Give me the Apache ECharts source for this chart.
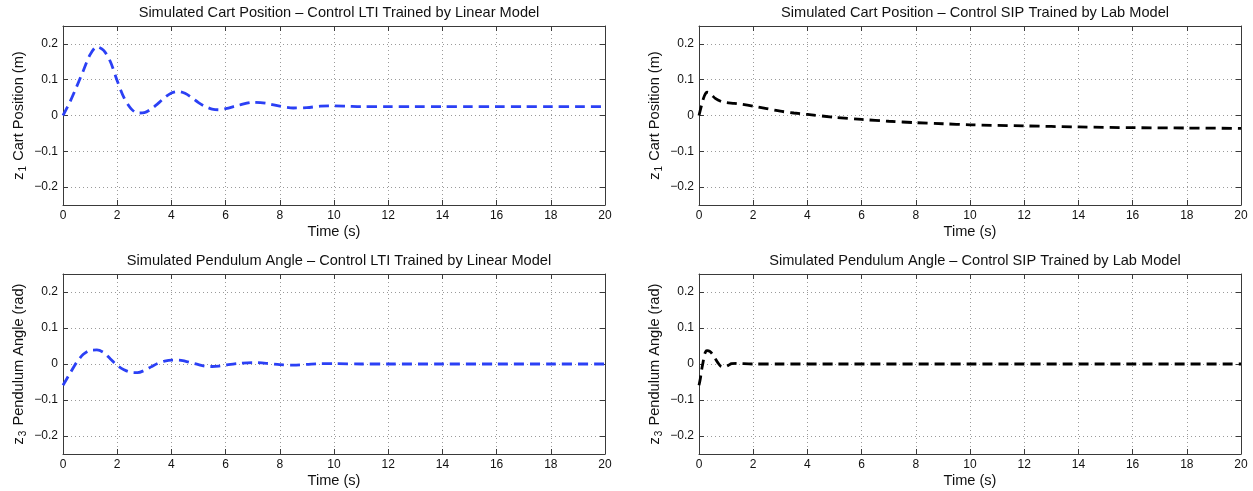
<!DOCTYPE html>
<html>
<head>
<meta charset="utf-8">
<script src="https://cdn.jsdelivr.net/npm/echarts@6/dist/echarts.min.js"></script>
<style>
html,body{margin:0;padding:0;background:#fff;}
#chart{width:1253px;height:491px;}
</style>
</head>
<body>
<div id="chart"></div>
<script>
// ---- data ----
const titles = [
  'Simulated Cart Position \u2013 Control LTI Trained by Linear Model',
  'Simulated Cart Position \u2013 Control SIP Trained by Lab Model',
  'Simulated Pendulum Angle \u2013 Control LTI Trained by Linear Model',
  'Simulated Pendulum Angle \u2013 Control SIP Trained by Lab Model'
];
const xTicks = [0, 2, 4, 6, 8, 10, 12, 14, 16, 18, 20];
const yTicks = [-0.2, -0.1, 0, 0.1, 0.2];

const tLtiCart = [0,0.25,0.5,0.75,1,1.25,1.5,1.75,2,2.25,2.5,2.75,3,3.25,3.5,3.75,4,4.25,4.5,4.75,5,5.25,5.5,5.75,6,6.5,7,7.5,8,8.5,9,9.5,10,10.5,11,12,13,14,15,16,17,18,19,20];
const yLtiCart = [0,0.037,0.08,0.125,0.170,0.192,0.182,0.150,0.097,0.050,0.020,0.007,0.008,0.018,0.033,0.050,0.063,0.067,0.062,0.050,0.036,0.025,0.018,0.016,0.019,0.029,0.037,0.034,0.026,0.021,0.022,0.026,0.027,0.026,0.025,0.025,0.025,0.025,0.025,0.025,0.025,0.025,0.025,0.025];

const tSipCart = [0,0.1,0.2,0.3,0.4,0.5,0.6,0.8,1.0,1.3,1.6,2,2.5,3,3.5,4,5,6,7,8,9,10,12,14,16,18,20];
const ySipCart = [0,0.03,0.055,0.065,0.063,0.055,0.048,0.040,0.036,0.034,0.031,0.026,0.019,0.012,0.007,0.003,-0.005,-0.011,-0.016,-0.020,-0.023,-0.026,-0.029,-0.032,-0.034,-0.035,-0.036];

const tLtiPend = [0,0.25,0.5,0.75,1,1.25,1.5,1.75,2,2.25,2.5,2.75,3,3.25,3.5,3.75,4,4.25,4.5,4.75,5,5.25,5.5,5.75,6,6.5,7,7.5,8,8.5,9,9.5,10,11,12,14,16,18,20];
const yLtiPend = [-0.059,-0.027,0.004,0.027,0.038,0.039,0.032,0.014,-0.004,-0.016,-0.023,-0.024,-0.018,-0.008,0.002,0.008,0.011,0.011,0.008,0.003,-0.002,-0.006,-0.007,-0.006,-0.003,0.002,0.004,0.002,-0.002,-0.003,-0.001,0.001,0.001,0,0,0,0,0,0];

const tSipPend = [0,0.05,0.1,0.15,0.2,0.25,0.3,0.4,0.5,0.6,0.7,0.8,0.9,1.0,1.1,1.2,1.4,1.6,2,3,5,10,15,20];
const ySipPend = [-0.059,-0.040,-0.015,0.005,0.025,0.035,0.037,0.035,0.027,0.015,0.003,-0.006,-0.008,-0.007,-0.003,0.001,0.002,0.001,0,0,0,0,0,0];

const seriesT = [tLtiCart, tSipCart, tLtiPend, tSipPend];
const seriesY = [yLtiCart, ySipCart, yLtiPend, ySipPend];
const seriesColors = ['#2b40f5', '#000000', '#2b40f5', '#000000'];
const yNames = [
  ['1', ' Cart Position (m)'],
  ['1', ' Cart Position (m)'],
  ['3', ' Pendulum Angle (rad)'],
  ['3', ' Pendulum Angle (rad)']
];

// ---- layout ----
const grids = [
  {left: 63, top: 26, width: 542, height: 179},
  {left: 699, top: 26, width: 542, height: 179},
  {left: 63, top: 274, width: 542, height: 180},
  {left: 699, top: 274, width: 542, height: 180}
];
const FONT = '"Liberation Sans", Arial, Helvetica, sans-serif';
const AXC = '#3a3a3a';

function fmtNum(v) {
  const r = Math.round(v * 1000) / 1000;
  if (r === 0) return '0';
  return (r < 0 ? '\u2212' : '') + String(Math.abs(r));
}

const option = {
  backgroundColor: '#fff',
  animation: false,
  title: [], grid: [], xAxis: [], yAxis: [], series: []
};

grids.forEach((g, i) => {
  option.grid.push({left: g.left, top: g.top, width: g.width, height: g.height, containLabel: false});
  option.title.push({
    text: titles[i],
    left: g.left + g.width / 2,
    top: g.top - 26,
    textAlign: 'center',
    textStyle: {fontFamily: FONT, fontSize: 14.6, fontWeight: 'normal', color: '#111'}
  });
  // bottom x axis
  option.xAxis.push({
    type: 'value', gridIndex: i, min: 0, max: 20, position: 'bottom',
    name: 'Time (s)', nameLocation: 'middle', nameGap: 19,
    nameTextStyle: {fontFamily: FONT, fontSize: 14.6, color: '#111'},
    axisLine: {show: true, onZero: false, lineStyle: {color: AXC, width: 1}},
    axisTick: {show: true, inside: true, length: 5, customValues: xTicks, lineStyle: {color: AXC}},
    axisLabel: {show: true, customValues: xTicks, margin: 5, fontFamily: FONT, fontSize: 12, color: '#111', formatter: v => fmtNum(v)},
    splitLine: {show: true, lineStyle: {color: '#9a9a9a', type: [1, 3], width: 1}}
  });
  // top mirror x axis
  option.xAxis.push({
    type: 'value', gridIndex: i, min: 0, max: 20, position: 'top',
    axisLine: {show: true, onZero: false, lineStyle: {color: AXC, width: 1}},
    axisTick: {show: true, inside: true, length: 5, customValues: xTicks, lineStyle: {color: AXC}},
    axisLabel: {show: false, customValues: xTicks},
    splitLine: {show: false}
  });
  // left y axis
  option.yAxis.push({
    type: 'value', gridIndex: i, min: -0.25, max: 0.25, position: 'left',
    name: '{z|z}{s|' + yNames[i][0] + '}{n|' + yNames[i][1] + '}',
    nameLocation: 'middle', nameGap: 35, nameRotate: 90,
    nameTextStyle: {
      fontFamily: FONT, fontSize: 14.6, color: '#111',
      rich: {
        z: {fontFamily: FONT, fontSize: 14.6, color: '#111', lineHeight: 18},
        n: {fontFamily: FONT, fontSize: 14.6, color: '#111', lineHeight: 18},
        s: {fontFamily: FONT, fontSize: 10, color: '#111', lineHeight: 18, verticalAlign: 'bottom', padding: [10, 1, 0, 1]}
      }
    },
    axisLine: {show: true, onZero: false, lineStyle: {color: AXC, width: 1}},
    axisTick: {show: true, inside: true, length: 5, customValues: yTicks, lineStyle: {color: AXC}},
    axisLabel: {show: true, customValues: yTicks, margin: 5, fontFamily: FONT, fontSize: 12, color: '#111', formatter: v => fmtNum(v)},
    splitLine: {show: true, lineStyle: {color: '#9a9a9a', type: [1, 3], width: 1}}
  });
  // right mirror y axis
  option.yAxis.push({
    type: 'value', gridIndex: i, min: -0.25, max: 0.25, position: 'right',
    axisLine: {show: true, onZero: false, lineStyle: {color: AXC, width: 1}},
    axisTick: {show: true, inside: true, length: 5, customValues: yTicks, lineStyle: {color: AXC}},
    axisLabel: {show: false, customValues: yTicks},
    splitLine: {show: false}
  });
  option.series.push({
    type: 'line',
    xAxisIndex: i * 2, yAxisIndex: i * 2,
    data: seriesT[i].map((t, k) => [t, seriesY[i][k]]),
    showSymbol: false, symbol: 'none',
    smooth: 0.3,
    clip: true,
    lineStyle: {color: seriesColors[i], width: 2.8, type: [10, 6]},
    z: 5
  });
});

const chart = echarts.init(document.getElementById('chart'), null, {renderer: 'canvas'});
chart.setOption(option);
</script>
</body>
</html>
